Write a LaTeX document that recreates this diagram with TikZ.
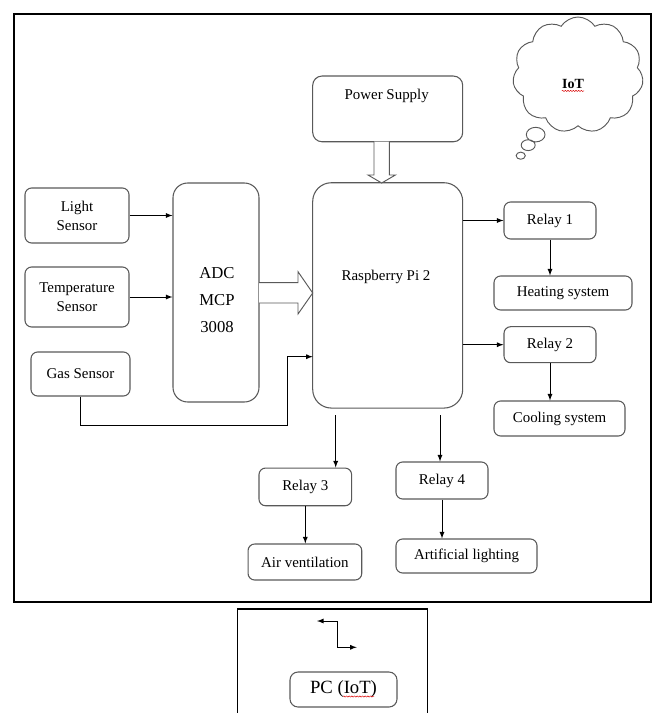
\documentclass[tikz,border=0pt]{standalone}
\usepackage{fontspec}
\setmainfont{Liberation Serif}
\usetikzlibrary{shapes.symbols,shapes.callouts,decorations.pathmorphing}

\begin{document}
\begin{tikzpicture}[x=0.75pt, y=-0.75pt,
  every node/.style={font=\fontsize{11.2}{14.2}\selectfont},
  box/.style={draw=black!65, line width=0.8pt, rounded corners=5pt, align=center, inner sep=0pt},
  arr/.style={-latex, line width=0.7pt},
  hollow/.style={draw=black!65, fill=white, line width=0.7pt},
  squiggle/.style={red!85!black, line width=0.35pt, decorate, decoration={snake, amplitude=0.45pt, segment length=2pt}}]
\useasboundingbox (0,0) rectangle (654,713);
\draw[line width=1.5pt] (14,14) rectangle (651,602);
\draw[line width=1.1pt] (237.3,716) -- (237.3,609) -- (427.3,609) -- (427.3,716);

% cloud
\node[cloud callout, draw=black!65, line width=0.7pt, cloud puffs=11, cloud puff arc=115, aspect=1.13,
      minimum width=98pt, minimum height=87pt, inner sep=0pt,
      callout absolute pointer={(520.7,155.7)}, callout pointer segments=3,
      callout pointer start size=.18 of callout, callout pointer end size=.07 of callout] (IoTcloud) at (578,75) {};
\node[font=\fontsize{10.5}{12}\selectfont\bfseries, inner sep=0pt] (IoT) at (573,84) {IoT};
\draw[squiggle] ([yshift=-1.8pt]IoT.base west) -- ([yshift=-1.8pt]IoT.base east);

% sensors and ADC
\node[box, minimum width=78pt, minimum height=41.25pt] (LS) at (77,215.5) {Light\\Sensor};
\node[box, minimum width=78pt, minimum height=45pt] (TS) at (77,297) {Temperature\\Sensor};
\node[box, minimum width=74.25pt, minimum height=33pt] (GS) at (80.5,374) {Gas Sensor};
\node[box, rounded corners=11pt, minimum width=64.5pt, minimum height=164.25pt] (ADC) at (216,292.5) {};
\node[align=center, font=\fontsize{12.5}{20}\selectfont] (ADClabel) at (217,300) {ADC\\MCP\\3008};

% power supply and raspberry pi
\node[box, rounded corners=7pt, minimum width=112.5pt, minimum height=49.3pt] (PS) at (387.7,108.9) {};
\node (PSlabel) at (386.7,96) {Power Supply};
\node[box, rounded corners=14pt, minimum width=112.5pt, minimum height=169pt] (RPi) at (387.7,295.4) {};
\node (RPilabel) at (386,277) {Raspberry Pi 2};

% relays and loads
\node[box, minimum width=69pt, minimum height=27.75pt] (R1) at (550,220.5) {Relay 1};
\node[box, minimum width=103.5pt, minimum height=25.5pt] (HS) at (563,293) {Heating system};
\node[box, minimum width=69pt, minimum height=27pt] (R2) at (550,344.7) {Relay 2};
\node[box, minimum width=98.25pt, minimum height=26.25pt] (CS) at (559.5,418.5) {Cooling system};
\node[box, minimum width=69.5pt, minimum height=28.3pt] (R3) at (305.3,486.9) {Relay 3};
\node[box, minimum width=85.3pt, minimum height=27pt] (AV) at (304.9,562) {Air ventilation};
\node[box, minimum width=69pt, minimum height=27.75pt] (R4) at (442,480.5) {Relay 4};
\node[box, minimum width=105.75pt, minimum height=25.5pt] (AL) at (466.5,556) {Artificial lighting};

% PC
\node[box, rounded corners=6pt, minimum width=80.25pt, minimum height=26.25pt, font=\fontsize{14}{16}\selectfont] (PC) at (343.5,689.5) {PC (IoT)};
\draw[squiggle] (343,696.5) -- (374,696.5);

\coordinate (GSbend) at (287.7,425);
\coordinate (GSin) at (312.7,356.7);
\coordinate (RPiout3) at (335.7,415);
\coordinate (RPiout4) at (440,415);
\coordinate (PCa) at (317,621);
\coordinate (PCmid) at (337.3,634);
\coordinate (PCb) at (356.7,647.3);

\draw[arr] (LS.east) -- (LS.east -| ADC.west);
\draw[arr] (TS.east) -- (TS.east -| ADC.west);
\draw[arr] (GS.south) |- (GSbend) |- (GSin);
\draw[arr] (RPi.east |- R1.west) -- (R1.west);
\draw[arr] (R1.south) -- (R1.south |- HS.north);
\draw[arr] (RPi.east |- R2.west) -- (R2.west);
\draw[arr] (R2.south) -- (R2.south |- CS.north);
\draw[arr] (RPiout3) -- (RPiout3 |- R3.north);
\draw[arr] (RPiout4) -- (RPiout4 |- R4.north);
\draw[arr] (R3.south) -- (R3.south |- AV.north);
\draw[arr] (R4.south) -- (R4.south |- AL.north);
\draw[latex-latex, line width=0.7pt] (PCa) -| (PCmid) |- (PCb);

% hollow arrows
\draw[hollow] (374,141.7) -- (374,175) -- (368,175) -- (381.7,183) -- (395.4,175) -- (389.4,175) -- (389.4,141.7);
\draw[hollow] (259,282.7) -- (298,282.7) -- (298,271.7) -- (312.7,293) -- (298,314) -- (298,303) -- (259,303);
\end{tikzpicture}
\end{document}
